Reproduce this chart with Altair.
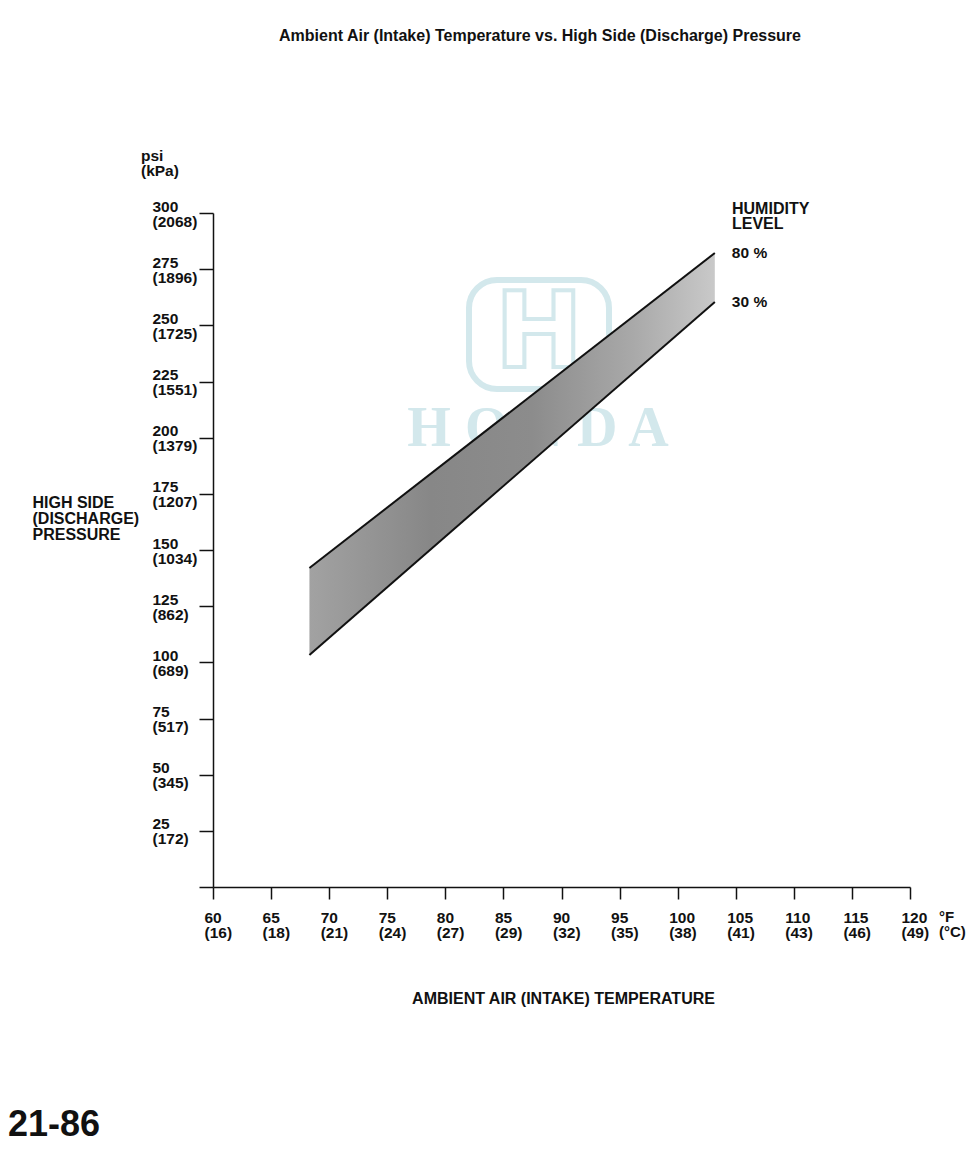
import altair as alt
import pandas as pd

# ---- data ----
temp_f = [60, 65, 70, 75, 80, 85, 90, 95, 100, 105, 110, 115, 120]
temp_c = ["16", "18", "21", "24", "27", "29", "32", "35", "38", "41", "43", "46", "49"]
psi_ticks = [0, 25, 50, 75, 100, 125, 150, 175, 200, 225, 250, 275, 300]
kpa_labels = ["", "172", "345", "517", "689", "862", "1034", "1207", "1379", "1551", "1725", "1896", "2068"]

band_temp = [68.3, 103.2]      # deg F
p80 = [142.0, 282.2]           # psi, 80 % humidity
p30 = [103.3, 260.4]           # psi, 30 % humidity

FONT = "Liberation Sans"
INK = "#111111"

band_df = pd.DataFrame({"temp": band_temp, "p80": p80, "p30": p30})
end_df = pd.DataFrame({"temp": [band_temp[-1]] * 2, "psi": [p80[-1], p30[-1]], "lab": ["80 %", "30 %"]})
one = pd.DataFrame({"k": [0]})

def js_list(v, quote=False):
    if quote:
        return "[" + ",".join("'" + s + "'" for s in v) + "]"
    return "[" + ",".join(str(s) for s in v) + "]"

x_label_expr = ("[format(datum.value,'d'), '(' + " + js_list(temp_c, True) +
                "[indexof(" + js_list(temp_f) + ", datum.value)] + ')']")
y_label_expr = ("datum.value == 0 ? '' : [format(datum.value,'d'), '(' + " + js_list(kpa_labels, True) +
                "[indexof(" + js_list(psi_ticks) + ", datum.value)] + ')']")

x_scale = alt.Scale(domain=[60, 120], nice=False, zero=False)
y_scale = alt.Scale(domain=[0, 300], nice=False, zero=True)

x_axis = alt.Axis(
    values=temp_f, labelExpr=x_label_expr, grid=False,
    tickSize=12, tickWidth=1.5, tickColor=INK, domainColor=INK, domainWidth=1.5,
    labelFont=FONT, labelFontSize=15.5, labelFontWeight="bold", labelColor=INK,
    labelAlign="left", labelOffset=-9, labelBaseline="top", labelPadding=11,
    labelLineHeight=15.5, labelOverlap=False, labelBound=False, labelFlush=False,
    title="AMBIENT AIR (INTAKE) TEMPERATURE", titleFont=FONT, titleFontSize=16,
    titleFontWeight="bold", titleColor=INK, titleX=350, titleY=111, titleBaseline="middle",
    titleAnchor="middle",
)
y_axis = alt.Axis(
    values=psi_ticks, labelExpr=y_label_expr, grid=False,
    tickSize=14, tickWidth=1.5, tickColor=INK, domainColor=INK, domainWidth=1.5,
    labelFont=FONT, labelFontSize=15.5, labelFontWeight="bold", labelColor=INK,
    labelAlign="left", labelPadding=47, labelBaseline="middle", labelOffset=-7,
    labelLineHeight=15, labelOverlap=False, labelBound=False, labelFlush=False,
    title=["HIGH SIDE", "(DISCHARGE)", "PRESSURE"], titleAngle=0, titleAlign="left",
    titleBaseline="middle", titleX=-181, titleY=289, titleFont=FONT, titleFontSize=16,
    titleFontWeight="bold", titleColor=INK, titleLineHeight=16,
)

WM = "#d3e8ec"
wm_box = alt.Chart(one).mark_rect(
    cornerRadius=28, fill="white", fillOpacity=0, stroke=WM, strokeWidth=6
).encode(x=alt.value(256), x2=alt.value(396), y=alt.value(67), y2=alt.value(176))
wm_h = alt.Chart(one).mark_text(
    font="DejaVu Sans", fontSize=105, fontWeight="bold", fill="white", stroke=WM, strokeWidth=4,
    align="center", baseline="middle"
).encode(x=alt.value(326), y=alt.value(122), text=alt.value("H"))
wm_txt = alt.Chart(one).mark_text(
    font="Liberation Serif", fontSize=56, fontWeight="bold", color=WM, align="center", baseline="middle"
).encode(x=alt.value(325), y=alt.value(216), text=alt.value("H O N D A"))

grad = alt.Gradient(
    gradient="linear", x1=0, x2=1, y1=0, y2=0,
    stops=[
        alt.GradientStop(color="#a2a2a2", offset=0),
        alt.GradientStop(color="#878787", offset=0.3),
        alt.GradientStop(color="#8c8c8c", offset=0.55),
        alt.GradientStop(color="#a9a9a9", offset=0.8),
        alt.GradientStop(color="#c9c9c9", offset=1),
    ],
)

base = alt.Chart(band_df)
band = base.mark_area(color=grad, opacity=1).encode(
    x=alt.X("temp:Q", scale=x_scale, axis=x_axis),
    y=alt.Y("p30:Q", scale=y_scale, axis=y_axis),
    y2="p80:Q",
)
line80 = base.mark_line(color=INK, strokeWidth=2).encode(
    x=alt.X("temp:Q", scale=x_scale), y=alt.Y("p80:Q", scale=y_scale))
line30 = base.mark_line(color=INK, strokeWidth=2).encode(
    x=alt.X("temp:Q", scale=x_scale), y=alt.Y("p30:Q", scale=y_scale))

end_labels = alt.Chart(end_df).mark_text(
    align="left", baseline="middle", dx=17, font=FONT, fontSize=15.5, fontWeight="bold", color=INK
).encode(x=alt.X("temp:Q", scale=x_scale), y=alt.Y("psi:Q", scale=y_scale), text="lab:N")

def note(txt, x, y, size=15.5, align="left", baseline="middle", lh=15):
    return alt.Chart(one).mark_text(
        align=align, baseline=baseline, font=FONT, fontSize=size, fontWeight="bold",
        color=INK, lineHeight=lh
    ).encode(x=alt.value(x), y=alt.value(y), text=alt.value(txt))

title = note("Ambient Air (Intake) Temperature vs. High Side (Discharge) Pressure", 327, -177,
             size=16, align="center")
unit_y = note(["psi", "(kPa)"], -72, -57)
humid = note(["HUMIDITY", "LEVEL"], 519, -4, size=16)
unit_x = note(["°F", "(°C)"], 726, 704, size=15)
page = note("21-86", -205, 912, size=36)

chart = alt.layer(
    wm_box, wm_h, wm_txt, band, line80, line30, end_labels,
    title, unit_y, humid, unit_x, page,
).properties(
    width=697, height=674,
    autosize=alt.AutoSizeParams(type="none"),
    padding={"left": 205, "top": 205, "right": 62, "bottom": 265},
).configure(background="white", view=alt.ViewConfig(stroke=None))

chart.save("out.html", embed_options={"renderer": "svg", "actions": False})
